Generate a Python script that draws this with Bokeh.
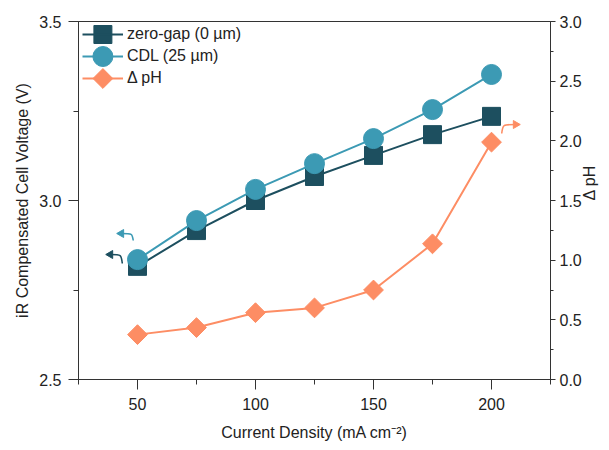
import numpy as np
from bokeh.plotting import figure
from bokeh.models import (Range1d, LinearAxis, SingleIntervalTicker, PrintfTickFormatter, Legend)
from bokeh.embed import file_html
from bokeh.resources import INLINE

# ---- data ----
current_density = [50, 75, 100, 125, 150, 175, 200]
zero_gap_voltage = [2.816, 2.916, 3.000, 3.067, 3.126, 3.184, 3.235]
cdl_voltage = [2.835, 2.944, 3.031, 3.103, 3.173, 3.254, 3.352]
delta_ph = [0.376, 0.435, 0.560, 0.600, 0.750, 1.137, 1.989]

series_labels = ["zero-gap (0 µm)", "CDL (25 µm)", "Δ pH"]
x_label = "Current Density (mA cm⁻²)"
y_label = "iR Compensated Cell Voltage (V)"
y2_label = "Δ pH"

C_DARK = "#1d4f5f"
C_CYAN = "#3c9ab4"
C_ORANGE = "#fd8d64"
AX = "#333333"
FONT = "Liberation Sans"
FS = "16px"

p = figure(width=609, height=450, output_backend="svg", toolbar_location=None,
           x_range=Range1d(25, 225), y_range=Range1d(2.5, 3.5),
           min_border_left=78, min_border_right=57, min_border_top=21, min_border_bottom=71,
           x_axis_label=x_label, y_axis_label=y_label)
p.extra_y_ranges = {"ph": Range1d(0, 3)}
p.grid.visible = False
p.outline_line_color = AX
p.outline_line_width = 1
p.background_fill_color = "white"
p.border_fill_color = "white"

ax2 = LinearAxis(y_range_name="ph", axis_label=y2_label)
p.add_layout(ax2, "right")

p.xaxis.ticker = SingleIntervalTicker(interval=50, num_minor_ticks=2)
p.yaxis.ticker = SingleIntervalTicker(interval=0.5, num_minor_ticks=2)
for ax in p.yaxis:
    ax.formatter = PrintfTickFormatter(format="%.1f")

for ax in list(p.xaxis) + list(p.yaxis):
    ax.axis_line_color = AX
    ax.major_tick_line_color = AX
    ax.minor_tick_line_color = AX
    ax.major_tick_in = 0
    ax.minor_tick_in = 0
    ax.major_label_text_font = FONT
    ax.major_label_text_font_size = FS
    ax.major_label_text_color = "#222222"
    ax.axis_label_text_font = FONT
    ax.axis_label_text_font_size = FS
    ax.axis_label_text_font_style = "normal"
    ax.axis_label_text_color = "#222222"

p.xaxis.major_tick_out = 10
p.xaxis.minor_tick_out = 5
p.xaxis.major_label_standoff = 8
p.xaxis.axis_label_standoff = 11

p.yaxis[0].major_tick_out = 10
p.yaxis[0].minor_tick_out = 5
p.yaxis[0].major_label_standoff = 7
p.yaxis[0].axis_label_standoff = 5

ax2.major_tick_out = 5
ax2.minor_tick_out = 3
ax2.major_label_standoff = 4
ax2.axis_label_standoff = 5
ax2.axis_label_orientation = np.pi / 2

# ---- series ----
r1l = p.line(current_density, zero_gap_voltage, color=C_DARK, line_width=2)
r1m = p.scatter(current_density, zero_gap_voltage, marker="square", size=18, color=C_DARK)
r2l = p.line(current_density, cdl_voltage, color=C_CYAN, line_width=2)
r2m = p.scatter(current_density, cdl_voltage, marker="circle", size=20, color=C_CYAN)
r3l = p.line(current_density, delta_ph, color=C_ORANGE, line_width=2, y_range_name="ph")
r3m = p.scatter(current_density, delta_ph, marker="square", size=14, angle=np.pi / 4,
                color=C_ORANGE, y_range_name="ph")

# ---- pixel -> data helpers for annotations ----
def px2x(px):
    return 25 + (px - 78) * 200 / 474

def py2y(py):
    return 3.5 - (py - 21) / 358

def py2y2(py):
    return 3.0 - (py - 21) * 3 / 358

def curved_arrow(x_end, y_end, x_c, y_c, x_head, y_head, color, yfun, angle, rng="default"):
    kw = {} if rng == "default" else {"y_range_name": rng}
    p.bezier(x0=[px2x(x_end)], y0=[yfun(y_end)], x1=[px2x(x_head)], y1=[yfun(y_head)],
             cx0=[px2x(x_c)], cy0=[yfun(y_c)], cx1=[px2x(x_c)], cy1=[yfun(y_c)],
             line_color=color, line_width=1.6, **kw)
    p.scatter([px2x(x_head)], [yfun(y_head)], marker="triangle", size=8, angle=angle,
              color=color, **kw)

curved_arrow(122, 263, 121, 254, 110, 254, C_DARK, py2y, np.pi / 2)
curved_arrow(133, 240, 132, 233, 121, 233, C_CYAN, py2y, np.pi / 2)
curved_arrow(503, 133, 504, 124, 517, 124, C_ORANGE, py2y2, -np.pi / 2, "ph")

legend = Legend(items=[(series_labels[0], [r1l]),
                       (series_labels[1], [r2l]),
                       (series_labels[2], [r3l])],
                location=(4, 290))
legend.margin = 0
legend.padding = 0
legend.spacing = 0
legend.glyph_width = 41
legend.glyph_height = 22
legend.label_height = 22
legend.label_standoff = 4
legend.label_text_font = FONT
legend.label_text_font_size = FS
legend.label_text_color = "#222222"
legend.background_fill_alpha = 0
legend.border_line_alpha = 0
p.add_layout(legend)

# full-size legend symbols drawn over the legend lines
lx = px2x(102.5)
p.scatter([lx], [py2y(34)], marker="square", size=18, color=C_DARK)
p.scatter([lx], [py2y(56)], marker="circle", size=20, color=C_CYAN)
p.scatter([lx], [py2y(78)], marker="square", size=14, angle=np.pi / 4, color=C_ORANGE)

open("out.html", "w").write(file_html(p, INLINE))
